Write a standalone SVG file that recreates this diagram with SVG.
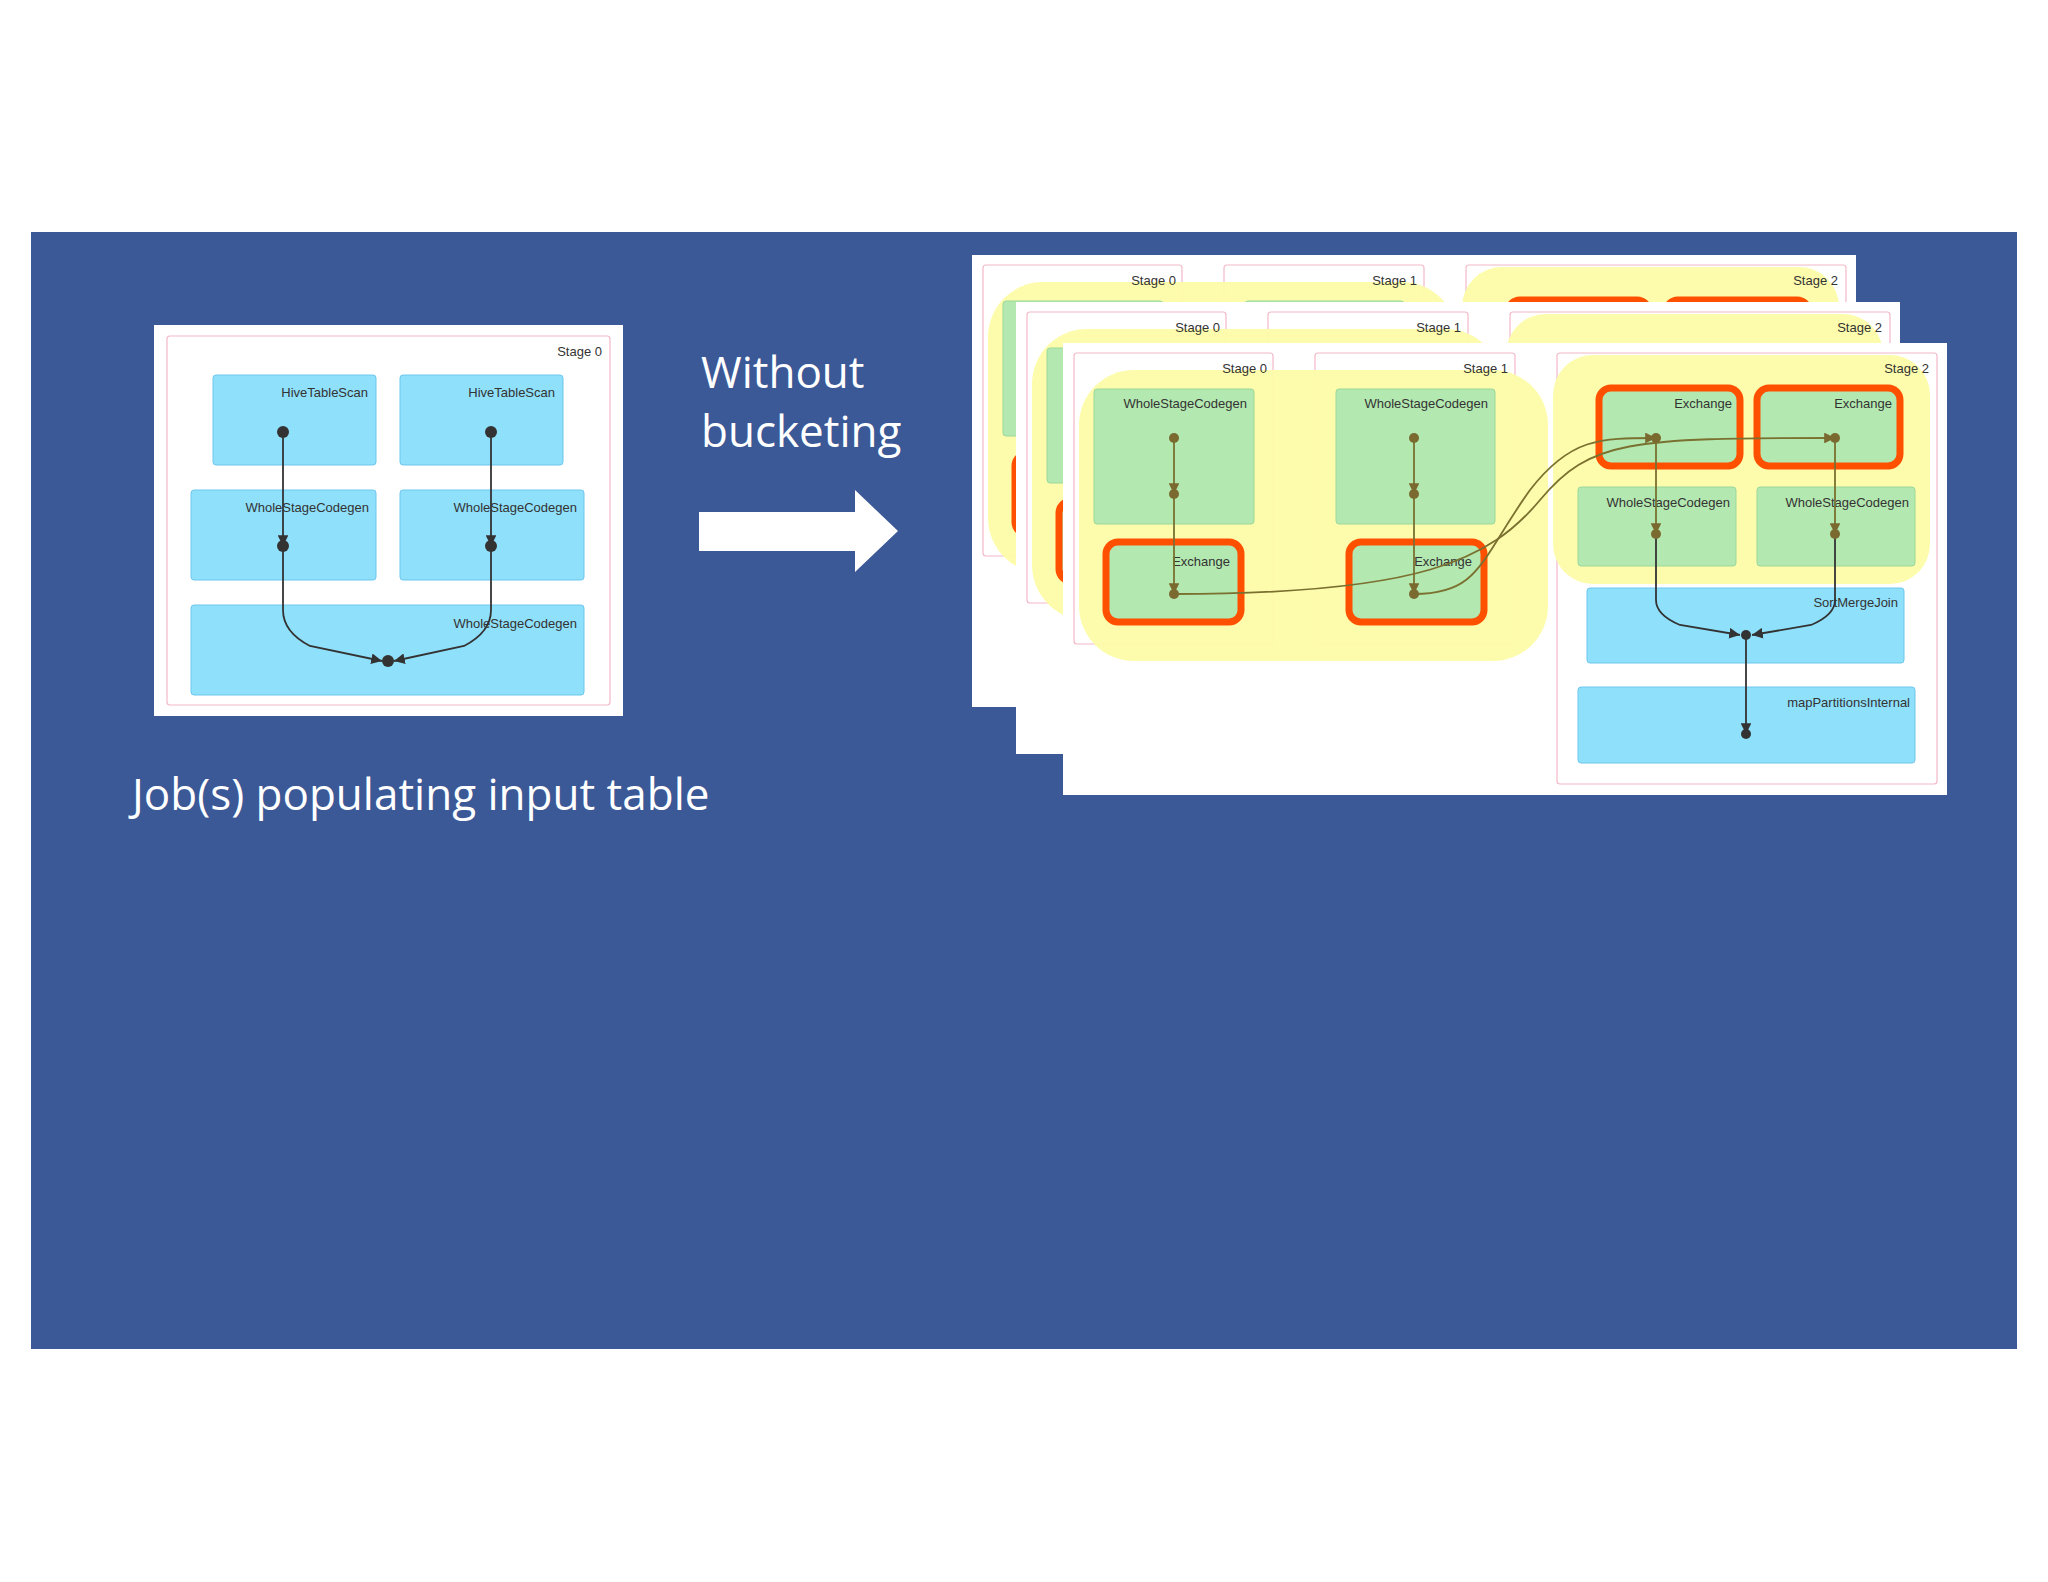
<svg xmlns="http://www.w3.org/2000/svg" xmlns:xlink="http://www.w3.org/1999/xlink" width="2048" height="1582" viewBox="0 0 2048 1582">
<style>
.t{font-family:"Liberation Sans",Arial,sans-serif;font-size:13px;fill:#333;text-anchor:end}
.tw{font-family:"Open Sans","Noto Sans",sans-serif;fill:#fff}
.stage{fill:#fff;stroke:#f4b8c8;stroke-width:1.2}
.blue{fill:#8fe0fb;stroke:#6cc7ee;stroke-width:1}
.green{fill:#b3e8b0;stroke:#9bd89a;stroke-width:1}
.yel{fill:#fdfca8;opacity:0.95}
.ora{fill:none;stroke:#ff5000;stroke-width:7}
.e{fill:none;stroke:#333;stroke-width:1.8}
.eo{fill:none;stroke:#7a7030;stroke-width:1.8}
.d{fill:#333}.do{fill:#7a6a30}
</style>
<defs>
<marker id="a" viewBox="0 0 10 10" refX="10" refY="5" markerWidth="6" markerHeight="6" orient="auto"><path d="M0 0L10 5L0 10z" fill="#333"/></marker>
<marker id="ao" viewBox="0 0 10 10" refX="10" refY="5" markerWidth="6" markerHeight="6" orient="auto"><path d="M0 0L10 5L0 10z" fill="#7a6a30"/></marker>
</defs>
<rect x="0" y="0" width="2048" height="1582" fill="#fff"/>
<rect x="31" y="232" width="1986" height="1117" fill="#3b5897"/>

<g id="left-panel">
<rect x="154" y="325" width="469" height="391" fill="#fff"/>
<rect class="stage" x="167" y="336" width="443" height="369" rx="3"/>
<text class="t" x="602" y="356">Stage 0</text>
</g>
<g id="hts1"><rect class="blue" x="213" y="375" width="163" height="90" rx="3"/><text class="t" x="368" y="397">HiveTableScan</text></g>
<g id="hts2"><rect class="blue" x="400" y="375" width="163" height="90" rx="3"/><text class="t" x="555" y="397">HiveTableScan</text></g>
<g id="wsc1"><rect class="blue" x="191" y="490" width="185" height="90" rx="3"/><text class="t" x="369" y="512">WholeStageCodegen</text></g>
<g id="wsc2"><rect class="blue" x="400" y="490" width="184" height="90" rx="3"/><text class="t" x="577" y="512">WholeStageCodegen</text></g>
<g id="wsc3"><rect class="blue" x="191" y="605" width="393" height="90" rx="3"/><text class="t" x="577" y="628">WholeStageCodegen</text></g>
<g id="left-edges">
<path class="e" d="M283 432V546" marker-end="url(#a)"/>
<path class="e" d="M491 432V546" marker-end="url(#a)"/>
<path class="e" d="M283 546V610Q283 632 310 646L382 661" marker-end="url(#a)"/>
<path class="e" d="M491 546V610Q491 632 464 646L394 661" marker-end="url(#a)"/>
<circle class="d" cx="283" cy="432" r="6"/><circle class="d" cx="491" cy="432" r="6"/>
<circle class="d" cx="283" cy="546" r="6"/><circle class="d" cx="491" cy="546" r="6"/>
<circle class="d" cx="388" cy="661" r="6"/>
</g>

<g id="title"><text class="tw" x="701" y="388" font-size="44">Without</text><text class="tw" x="701" y="447" font-size="44">bucketing</text></g>
<g id="big-arrow"><path d="M699 512H855V490L898 531L855 572V551H699z" fill="#fff"/></g>
<g id="caption"><text class="tw" x="132" y="810" font-size="44">Job(s) populating input table</text></g>

<g id="sheet1" transform="translate(-91,-88)">
<rect x="1063" y="343" width="884" height="452" fill="#fff"/>
<use xlink:href="#content"/>
</g>
<g id="sheet2" transform="translate(-47,-41)">
<rect x="1063" y="343" width="884" height="452" fill="#fff"/>
<use xlink:href="#content"/>
</g>
<g id="sheet3">
<rect x="1063" y="343" width="884" height="452" fill="#fff"/>
<g id="content">
<rect class="stage" x="1074" y="353" width="199" height="291" rx="3"/>
<rect class="stage" x="1315" y="353" width="200" height="291" rx="3"/>
<rect class="stage" x="1557" y="353" width="380" height="431" rx="3"/>
<rect class="yel" x="1079" y="370" width="469" height="291" rx="55"/>
<rect class="yel" x="1553" y="355" width="377" height="229" rx="40"/>
<text class="t" x="1267" y="373" fill="#555">Stage 0</text>
<text class="t" x="1508" y="373">Stage 1</text>
<text class="t" x="1929" y="373">Stage 2</text>
<g id="s0-wsc"><rect class="green" x="1094" y="389" width="160" height="135" rx="3"/><text class="t" x="1247" y="408">WholeStageCodegen</text></g>
<g id="s1-wsc"><rect class="green" x="1336" y="389" width="159" height="135" rx="3"/><text class="t" x="1488" y="408">WholeStageCodegen</text></g>
<g id="s0-exch"><rect class="green" x="1106" y="542" width="135" height="80" rx="8"/><rect class="ora" x="1106" y="542" width="135" height="80" rx="12"/><text class="t" x="1230" y="566">Exchange</text></g>
<g id="s1-exch"><rect class="green" x="1349" y="542" width="135" height="80" rx="8"/><rect class="ora" x="1349" y="542" width="135" height="80" rx="12"/><text class="t" x="1472" y="566">Exchange</text></g>
<g id="s2-exch1"><rect class="green" x="1599" y="388" width="141" height="78" rx="8"/><rect class="ora" x="1599" y="388" width="141" height="78" rx="12"/><text class="t" x="1732" y="408">Exchange</text></g>
<g id="s2-exch2"><rect class="green" x="1757" y="388" width="143" height="78" rx="8"/><rect class="ora" x="1757" y="388" width="143" height="78" rx="12"/><text class="t" x="1892" y="408">Exchange</text></g>
<g id="s2-wsc1"><rect class="green" x="1578" y="487" width="158" height="79" rx="3"/><text class="t" x="1730" y="507">WholeStageCodegen</text></g>
<g id="s2-wsc2"><rect class="green" x="1757" y="487" width="158" height="79" rx="3"/><text class="t" x="1909" y="507">WholeStageCodegen</text></g>
<g id="smj"><rect class="blue" x="1587" y="588" width="317" height="75" rx="3"/><text class="t" x="1898" y="607">SortMergeJoin</text></g>
<g id="mpi"><rect class="blue" x="1578" y="687" width="337" height="76" rx="3"/><text class="t" x="1910" y="707">mapPartitionsInternal</text></g>
<g id="connectors">
<path class="eo" d="M1174 438V494" marker-end="url(#ao)"/>
<path class="eo" d="M1174 494V594" marker-end="url(#ao)"/>
<path class="eo" d="M1414 438V494" marker-end="url(#ao)"/>
<path class="eo" d="M1414 494V594" marker-end="url(#ao)"/>
<path class="eo" d="M1174 594C1420 594 1490 560 1540 500C1590 440 1630 438 1835 438" marker-end="url(#ao)"/>
<path class="eo" d="M1414 594C1480 594 1480 560 1530 490C1570 438 1600 438 1656 438" marker-end="url(#ao)"/>
<path class="eo" d="M1656 438V534" marker-end="url(#ao)"/>
<path class="eo" d="M1835 438V534" marker-end="url(#ao)"/>
<path class="e" d="M1656 534V600Q1656 615 1680 625L1740 635" marker-end="url(#a)"/>
<path class="e" d="M1835 534V600Q1835 615 1811 625L1752 635" marker-end="url(#a)"/>
<path class="e" d="M1746 635V734" marker-end="url(#a)"/>
<circle class="do" cx="1174" cy="438" r="5"/><circle class="do" cx="1174" cy="494" r="5"/><circle class="do" cx="1174" cy="594" r="5"/>
<circle class="do" cx="1414" cy="438" r="5"/><circle class="do" cx="1414" cy="494" r="5"/><circle class="do" cx="1414" cy="594" r="5"/>
<circle class="do" cx="1656" cy="438" r="5"/><circle class="do" cx="1656" cy="534" r="5"/>
<circle class="do" cx="1835" cy="438" r="5"/><circle class="do" cx="1835" cy="534" r="5"/>
<circle class="d" cx="1746" cy="635" r="5"/><circle class="d" cx="1746" cy="734" r="5"/>
</g>
</g>
</g>
</svg>
